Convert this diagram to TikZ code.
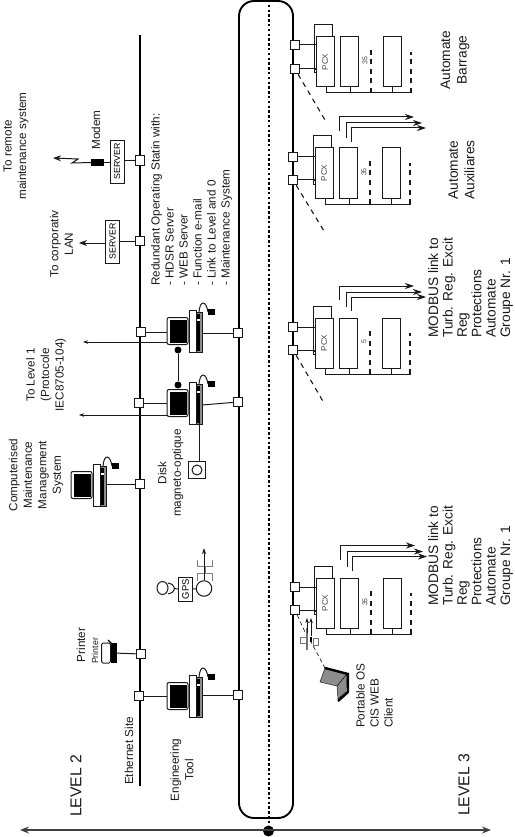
\documentclass[tikz,border=0pt]{standalone}
\usepackage{fontspec}
\setmainfont{Liberation Sans}
\usepackage{tikz}
\usetikzlibrary{arrows.meta,positioning,calc,shapes.geometric}
\definecolor{ink}{gray}{0.1}
\tikzset{
  pics/wkstn/.style={code={
    \node[mon] (-mon) at (10.5,0) {};
    \fill[black] (3,-11.5) rectangle (19.5,12);
    \draw[draw=ink,fill=white,line width=.9pt] (22,-21) rectangle (29,21);
    \draw[draw=ink,fill=black!45,line width=.9pt] (29,-19) rectangle (35,21);
    \fill[black] (30,-17) rectangle (33,20);
    \fill[white] (30,-12) rectangle (33,-10);
    \draw[ink,line width=1pt] (32,-19) .. controls (33,-31) and (39,-31) .. (41,-19);
    \fill[black] (41,-22) rectangle (48,-16);
    \coordinate (-key) at (35,2);
  }},
  pics/rack/.style={code={
    \node[slot,font=\fontsize{8}{8}\selectfont,text=black!75] (-pcx) at (9,25) {PCX};
    \node[slot] (-io) at (33,25) {};
    \node[slot] (-last) at (76,25) {};
    \draw[wire] (-2,36) -- (-2,-12) -- (16,-12) -- (16,0);
    \draw[wire,fill=white] (-2,33) rectangle (0,36);
    \draw[wire] (10,50) -- (10,56) -- (96,56);
    \draw[wire] (34,50) -- (34,56);
    \draw[wire] (76,50) -- (76,56);
    \draw[dashline] (55,56) -- (55,13);
    \draw[dashline] (95,56) -- (95,15);
    \node[rotate=90,font=\fontsize{7}{7}\selectfont,text=black!75,inner sep=0] (-nb) at (49,24) {#1};
  }},
  pics/outs/.style={code={
    \draw[outarr] (0,14) -- (0,0) -- (75,0);
    \draw[outarr] (7,21) -- (7,6) -- (83,6);
    \draw[outarr] (12,25) -- (12,11) -- (87,11);
  }}
}
\begin{document}
\begin{tikzpicture}[x=1pt,y=-1pt,
  sq/.style={draw=ink,fill=white,line width=1pt,minimum size=9.5pt,inner sep=0},
  mon/.style={draw=ink,fill=white,line width=1pt,rounded corners=2pt,minimum width=21pt,minimum height=27pt,inner sep=0},
  slot/.style={draw=ink,rotate=90,line width=1pt,minimum width=50pt,minimum height=18pt,inner sep=0},
  srv/.style={draw=ink,rotate=90,line width=.9pt,font=\fontsize{8.8}{9}\selectfont,inner sep=0,minimum width=43pt,minimum height=14pt},
  tx/.style={rotate=90,align=center,font=\fontsize{11.7}{14.5}\selectfont,inner sep=0,text=ink},
  txl/.style={rotate=90,align=left,anchor=north west,font=\fontsize{11.7}{14}\selectfont,inner sep=0,text=ink},
  tb/.style={rotate=90,align=center,font=\fontsize{13.7}{16.5}\selectfont,inner sep=0,text=ink},
  tbl/.style={rotate=90,align=left,anchor=north west,font=\fontsize{13.7}{14.4}\selectfont,inner sep=0,text=ink},
  lvl/.style={rotate=90,font=\fontsize{15.7}{16}\selectfont,inner sep=0,text=ink},
  wire/.style={draw=ink,line width=1pt},
  dashline/.style={draw=ink,line width=1.1pt,dash pattern=on 5pt off 4.5pt},
  outarr/.style={draw=ink,line width=1pt,-{Stealth[length=9pt,width=6pt]}},
  thinarr/.style={draw=ink,line width=.7pt,-{Stealth[length=5pt,width=3.5pt]}},
  arr/.style={draw=ink,line width=1pt,-{Stealth[length=8pt,width=6pt]}}]
\useasboundingbox (0,0) rectangle (514,837);

% buses
\coordinate (busN) at (140,35);
\coordinate (busS) at (140,786);
\draw[black,line width=2pt] (busN) -- (busS);
\draw[black,line width=1.9pt,rounded corners=15pt] (239,1) rectangle (293,818);
\coordinate (dotN) at (268.5,0);
\coordinate (axL) at (20,830);
\coordinate (axR) at (491,830);
\node[circle,fill=black,minimum size=11pt,inner sep=0] (hub) at (268.5,831) {};
\draw[black,line width=2pt,dash pattern=on 2.5pt off 2.3pt] (dotN) -- (hub);
\draw[black!75,line width=1.5pt,{Stealth[length=9pt,width=7pt]}-{Stealth[length=9pt,width=7pt]}] (axL) -- (axR);

% level 2 stations
\node[sq] (mdA) at (140,160.5) {};
\node[srv] (srvA) at (117,161.5) {SERVER};
\node[fill=black,minimum width=13pt,minimum height=7pt,inner sep=0] (modem) at (97.5,162.5) {};
\coordinate (toRemote) at (53,158);
\draw[wire] (mdA) -- (mdA -| srvA.south);
\draw[wire] (srvA.north |- modem) -- (modem);
\draw[arr] (modem.west) -- (72,163) -- (78,159) -- (toRemote);
\node[sq] (lanA) at (140,241) {};
\node[srv] (srvB) at (112.5,241.5) {SERVER};
\coordinate (toLan) at (79,243);
\draw[wire] (lanA) -- (lanA -| srvB.south);
\draw[arr] (srvB.north |- toLan) -- (toLan);

\pic (pcA) at (167,331) {wkstn};
\pic (pcB) at (167,403) {wkstn};
\pic (pcC) at (71,485) {wkstn};
\pic (pcD) at (167,696) {wkstn};
\node[sq] (upA) at (141,332) {};
\node[sq] (upB) at (139,403) {};
\node[sq] (upC) at (140,484) {};
\node[sq] (upD) at (139,696) {};
\node[sq] (loA) at (238,333) {};
\node[sq] (loB) at (238,402) {};
\node[sq] (loD) at (238,695) {};
\draw[wire] (upA) -- (upA -| pcA-mon.west);
\draw[wire] (upB) -- (upB -| pcB-mon.west);
\draw[wire] (upD) -- (upD -| pcD-mon.west);
\draw[wire] (pcC-key |- upC) -- (upC);
\draw[wire] (pcA-key) -- (loA);
\draw[wire] (pcB-key) -- (loB);
\draw[wire] (pcD-key |- loD) -- (loD);
\node[circle,fill=black,minimum size=7pt,inner sep=0] (linkA) at (178,350) {};
\node[circle,fill=black,minimum size=7pt,inner sep=0] (linkB) at (178,385) {};
\draw[wire] (linkA) -- (linkB);
\coordinate (lvlA) at (83,342);
\coordinate (lvlB) at (79,415);
\draw[thinarr] (pcA-mon.west |- lvlA) -- (lvlA);
\draw[thinarr] (pcB-mon.west |- lvlB) -- (lvlB);

% disk
\node[draw=ink,line width=1pt,minimum size=17pt,inner sep=0] (disk) at (197,470) {};
\node[draw=ink,circle,line width=1pt,minimum size=10pt,inner sep=0] (diskc) at (197,470) {};
\coordinate (diskup) at (199,423);
\draw[wire] (diskup) -- (diskup |- disk.north);

% gps
\node[draw=ink,line width=1pt,minimum width=24pt,minimum height=14pt,rotate=90,inner sep=0,font=\fontsize{9.5}{9.5}\selectfont] (gps) at (185.5,589) {GPS};
\node[draw=ink,circle,fill=white,line width=1pt,minimum size=15.5pt,inner sep=0] (clk) at (204,588.5) {};
\node[draw=ink,ellipse,line width=1pt,minimum width=11pt,minimum height=13pt,inner sep=0] (dish) at (162.5,588) {};
\draw[wire,rounded corners=2pt] (168,583) -- (174,585) -- (174,592) -- (168,594);
\draw[wire] (gps.north) -- (174,588.5);
\draw[wire] (gps.south) -- (clk);
\draw[black!50,line width=1pt] (197,581) -- (197,573) -- (204,573) -- (204,566) -- (197,566) -- (197,560);
\draw[black!50,line width=1pt] (212,581) -- (212,573) -- (205,573) -- (205,566) -- (212,566) -- (212,560);
\coordinate (clkup) at (204,548);
\draw[ink,line width=.8pt,-{Stealth[length=6pt,width=4pt]}] (clk.north) -- (clkup);

% printer
\node[sq] (upP) at (141,654) {};
\node[draw=ink,line width=1pt,rounded corners=1.5pt,minimum width=9pt,minimum height=20pt,inner sep=0] (prt) at (106,653) {};
\node[fill=black,minimum width=6pt,minimum height=20pt,inner sep=0] (prtb) at (113.5,653) {};
\draw[black,line width=1.2pt] (108,640) -- (112,644);
\draw[wire] (prtb) -- (upP);

% level 2 texts
\node[tx] (tRemote) at (16,146) {To remote\\maintenance system};
\node[tx] (tModem) at (96,130) {Modem};
\node[tx] (tLan) at (61.5,244) {To corporativ\\LAN};
\node[txl] (tRed) at (151,286) {Redundant Operating Statin with:\\- HDSR Server\\- WEB Server\\- Function e-mail\\- Link to Level and 0\\- Maintenance System};
\node[tx] (tLvlA) at (46,375) {To Level 1\\(Protocole\\IEC8705-104)};
\node[tx] (tCmms) at (36,475) {Computerised\\Maintenance\\Management\\System};
\node[tx] (tDisk) at (170.5,473) {Disk\\magneto-optique};
\node[tx] (tPrn) at (81,645) {Printer};
\node[tx,font=\fontsize{8.8}{9}\selectfont] (tPrnB) at (95,651) {Printer};
\node[tx] (tEth) at (129,751) {Ethernet Site};
\node[tx] (tEng) at (182,770) {Engineering\\Tool};
\node[lvl] (tL2) at (76,786) {LEVEL 2};

% level 3 racks
\pic (rkA) at (316,37) {rack=35};
\pic (rkB) at (315,148) {rack=35};
\pic (rkC) at (315,318) {rack=5};
\pic (rkD) at (316,578) {rack=35};
\pic (outB) at (339,117) {outs};
\pic (outC) at (339,286) {outs};
\pic (outD) at (340,545.5) {outs};
\node[sq] (aA) at (295,45) {};
\node[sq] (aB) at (295,69) {};
\node[sq] (bA) at (293,157) {};
\node[sq] (bB) at (293,180) {};
\node[sq] (cA) at (293,327) {};
\node[sq] (cB) at (293,350) {};
\node[sq] (dA) at (295,587) {};
\node[sq] (dB) at (295,610) {};
\foreach \sq/\rk in {aA/rkA,aB/rkA,bA/rkB,bB/rkB,cA/rkC,cB/rkC,dA/rkD,dB/rkD}
  \draw[wire] (\sq) -- (\sq -| \rk-pcx.north);
\coordinate (endA) at (325,120);
\coordinate (endB) at (324,231);
\coordinate (endC) at (324,403);
\draw[dashline] (aB) -- (endA);
\draw[dashline] (bB) -- (endB);
\draw[dashline] (cB) -- (endC);

% portable
\coordinate (lapT) at (325,668);
\draw[draw=ink,line width=.7pt,dash pattern=on 4pt off 3pt] (dB) -- (305,632);
\draw[draw=ink,line width=.7pt,dash pattern=on 4pt off 3pt] (310,640) -- (lapT);
\draw[black!55,fill=white,line width=.9pt] (300,637) rectangle (307,643);
\draw[black!55,fill=white,line width=.9pt] (313,638) rectangle (318,645);
\draw[black!55,line width=1.7pt] (307,628) -- (307,650);
\fill[black] (310,637) rectangle (312,642);
\draw[ink,line width=.7pt,-{Stealth[length=5pt,width=3.5pt]}] (307,633) -- (307,618);
\draw[ink,line width=.7pt,-{Stealth[length=5pt,width=3.5pt]}] (311,636) -- (311,618);
\draw[draw=ink,fill=black!45,line width=.5pt] (lapT) -- (320,682) -- (337,686) -- (347,674) -- cycle;
\draw[draw=ink,fill=black!45,line width=.5pt] (347,674) -- (337,686) -- (338,699) -- (346,692) -- cycle;
\draw[black,line width=2.4pt] (lapT) -- (348,674) -- (348,692) -- (338,701);

% level 3 texts
\node[tb] (tBar) at (455,60) {Automate\\Barrage};
\node[tb] (tAux) at (461.5,170) {Automate\\Auxiliares};
\node[tbl] (tModC) at (428,338) {MODBUS link to\\Turb. Reg. Excit\\Reg\\Protections\\Automate\\Groupe Nr. 1};
\node[tbl] (tModD) at (428,606) {MODBUS link to\\Turb. Reg. Excit\\Reg\\Protections\\Automate\\Groupe Nr. 1};
\node[txl] (tPort) at (356,728) {Portable OS\\CIS WEB\\Client};
\node[lvl] (tL3) at (464,785) {LEVEL 3};
\end{tikzpicture}
\end{document}
